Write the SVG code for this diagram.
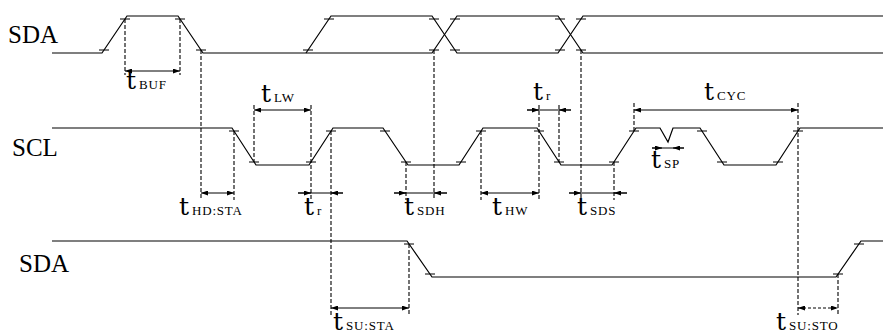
<svg xmlns="http://www.w3.org/2000/svg" width="883" height="336" viewBox="0 0 883 336">
<style>
.sig{fill:none;stroke:#000;stroke-width:1.2}
.tk{stroke:#000;stroke-width:1}
.dash{stroke:#000;stroke-width:1.1;stroke-dasharray:4 2;fill:none}
.dim{stroke:#000;stroke-width:1;fill:none}
.dimA{stroke:#000;stroke-width:1;fill:none;marker-start:url(#ah);marker-end:url(#ah)}
.dimE{stroke:#000;stroke-width:1;fill:none;marker-end:url(#ah)}
.name{font-family:"Liberation Serif",serif;font-size:25px;fill:#000}
.t{font-family:"DejaVu Serif",serif;font-size:25px;fill:#000}
.s{font-family:"Liberation Serif",serif;font-size:13px;fill:#000;letter-spacing:0.8px}
</style>
<defs>
<marker id="ah" viewBox="0 0 7 5" refX="7" refY="2.5" markerWidth="7" markerHeight="5" markerUnits="userSpaceOnUse" orient="auto-start-reverse"><path d="M0,0 L7,2.5 L0,5 z" fill="#000"/></marker>
</defs>
<rect width="883" height="336" fill="#fff"/>

<g id="sda-top">
<text class="name" x="8" y="43">SDA</text>
<path class="sig" d="M52,53 H102 L127,16 H178 L203,53 H432 L457,16 H558 L583,53 H883"/>
<path class="sig" d="M306,53 L331,16 H432 L457,53 H558 L583,16 H883"/>
<path class="tk" d="M99,50h10 M120,19h10 M175,19h10 M196,50h10 M303,50h10 M324,19h10 M429,50h10 M450,19h10 M429,19h10 M450,50h10 M555,50h10 M576,19h10 M555,19h10 M576,50h10"/>
</g>

<g id="scl">
<text class="name" x="12" y="156">SCL</text>
<path class="sig" d="M52,128 H232 L256,165 H309 L333,128 H383 L408,165 H459 L483,128 H537 L561,165 H612 L636,128 H660 L668,142 L673,128 H700 L724,165 H776 L800,128 H883"/>
<path class="tk" d="M229,131h10 M249,162h10 M306,162h10 M326,131h10 M380,131h10 M401,162h10 M456,162h10 M476,131h10 M534,131h10 M554,162h10 M609,162h10 M629,131h10 M697,131h10 M717,162h10 M773,162h10 M793,131h10"/>
</g>

<g id="sda-bottom">
<text class="name" x="19" y="272">SDA</text>
<path class="sig" d="M52,241 H407 L432,277 H836 L861,241 H883"/>
<path class="tk" d="M404,244h10 M425,274h10 M833,274h10 M854,244h10"/>
</g>

<g id="connectors">
<path class="dash" d="M125,19V75 M180,19V75 M201,50V200 M234,131V200 M254,105V162 M311,105V200 M331,131V315 M406,162V200 M434,50V200 M481,131V200 M539,105V200 M559,105V162 M581,50V200 M614,162V200 M634,103V131 M798,103V315 M409,244V315 M838,274V315"/>
<path class="dimA" d="M125,71H180"/>
<path class="dimA" d="M254,110H311"/>
<path class="dimA" d="M201,193H234"/>
<path class="dim" d="M298,193H343"/><path class="dimE" d="M298,193H311"/><path class="dimE" d="M343,193H331"/>
<path class="dim" d="M394,193H447"/><path class="dimE" d="M394,193H406"/><path class="dimE" d="M447,193H434"/>
<path class="dimA" d="M481,193H539"/>
<path class="dim" d="M527,110H571"/><path class="dimE" d="M527,110H539"/><path class="dimE" d="M571,110H559"/>
<path class="dim" d="M569,193H627"/><path class="dimE" d="M569,193H581"/><path class="dimE" d="M627,193H614"/>
<path class="dimA" d="M634,110H798"/>
<path class="dim" d="M652,148H684"/><path class="dimE" d="M652,148H662"/><path class="dimE" d="M684,148H673"/>
<path class="dimA" d="M331,308H409"/>
<path class="dimA" d="M798,308H838" stroke-dasharray="3 2"/>
</g>

<g id="labels">
<text x="126" y="89"><tspan class="t">t</tspan><tspan class="s" dx="3">BUF</tspan></text>
<text x="261" y="102"><tspan class="t">t</tspan><tspan class="s" dx="3">LW</tspan></text>
<text x="179" y="215"><tspan class="t">t</tspan><tspan class="s" dx="3">HD:STA</tspan></text>
<text x="304" y="215"><tspan class="t">t</tspan><tspan class="s" dx="3">r</tspan></text>
<text x="404" y="215"><tspan class="t">t</tspan><tspan class="s" dx="3">SDH</tspan></text>
<text x="492" y="215"><tspan class="t">t</tspan><tspan class="s" dx="3">HW</tspan></text>
<text x="577" y="215"><tspan class="t">t</tspan><tspan class="s" dx="3">SDS</tspan></text>
<text x="533" y="100"><tspan class="t">t</tspan><tspan class="s" dx="3">r</tspan></text>
<text x="704" y="100"><tspan class="t">t</tspan><tspan class="s" dx="3">CYC</tspan></text>
<text x="651" y="168"><tspan class="t">t</tspan><tspan class="s" dx="3">SP</tspan></text>
<text x="333" y="330"><tspan class="t">t</tspan><tspan class="s" dx="3">SU:STA</tspan></text>
<text x="776" y="330"><tspan class="t">t</tspan><tspan class="s" dx="3">SU:STO</tspan></text>
</g>
</svg>
